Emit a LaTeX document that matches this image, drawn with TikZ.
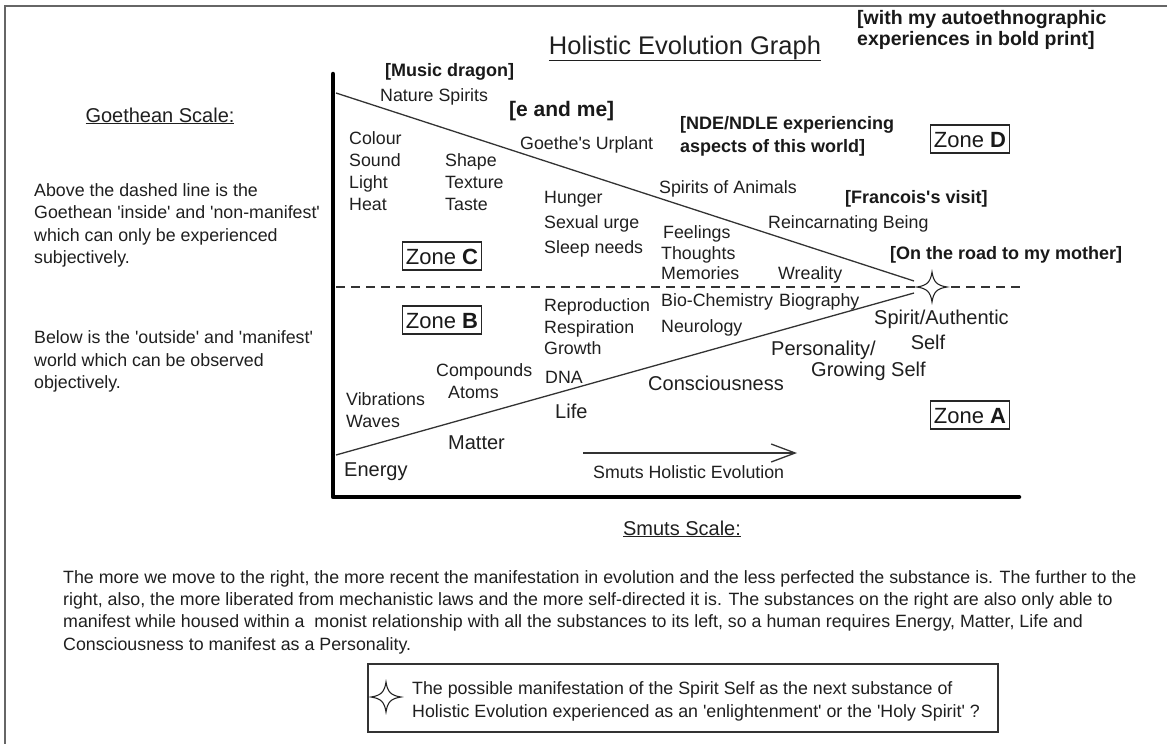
\documentclass[tikz,border=0pt]{standalone}
\usepackage{fontspec}
\setmainfont{Liberation Sans}
\usetikzlibrary{arrows.meta}
\newcommand\sqt{\textquotesingle}
\begin{document}
\begin{tikzpicture}[x=1pt,y=-1pt,
  t/.style={font=\fontsize{17.8}{21}\selectfont, inner sep=0, anchor=base west, text=black!88},
  tb/.style={font=\fontsize{18}{21}\selectfont\bfseries, inner sep=0, anchor=base west, text=black!90},
  tbig/.style={font=\fontsize{20}{24}\selectfont, inner sep=0, anchor=base west, text=black!88},
  head/.style={font=\fontsize{20}{24}\selectfont, inner sep=0, anchor=base, text=black!88},
  zonebox/.style={draw=black!85, line width=1.2, font=\fontsize{22}{26}\selectfont, inner xsep=3.5, inner ysep=0, minimum height=28, text height=16, text depth=0, text=black!90},
  ln/.style={line width=1.3, draw=black!80},
  axis/.style={line width=4.5, draw=black, line cap=round, line join=round},
  sparkle/.pic={\draw[line width=1.1, draw=black!85, fill=white] (0,-15) .. controls (1.5,-5) and (5,-1.5) .. (15,0) .. controls (5,1.5) and (1.5,5) .. (0,15) .. controls (-1.5,5) and (-5,1.5) .. (-15,0) .. controls (-5,-1.5) and (-1.5,-5) .. cycle;}
]
\useasboundingbox (0,0) rectangle (1167,744);
\fill[white] (0,0) rectangle (1167,744);
% outer frame
\draw[line width=2.2, draw=black!60] (5,744) -- (5,6) -- (1167,6);

% title
\node[font=\fontsize{25.5}{30}\selectfont, inner sep=0, anchor=base, text=black!88] (title) at (685,54) {\underline{Holistic Evolution Graph}};
\node[font=\fontsize{19.5}{22}\selectfont\bfseries, inner sep=0, anchor=base west, text=black!90] (auto1) at (857,24) {[with my autoethnographic};
\node[font=\fontsize{19.5}{22}\selectfont\bfseries, inner sep=0, anchor=base west, text=black!90] (auto2) at (857,45) {experiences in bold print]};

% left column
\node[head] (goeth) at (160,122) {\underline{Goethean Scale:}};
\node[t] (p1) at (34,196) {Above the dashed line is the};
\node[t] (p2) at (34,218) {Goethean \sqt inside\sqt\ and \sqt non-manifest\sqt};
\node[t] (p3) at (34,241) {which can only be experienced};
\node[t] (p4) at (34,263) {subjectively.};
\node[t] (p5) at (34,343) {Below is the \sqt outside\sqt\ and \sqt manifest\sqt};
\node[t] (p6) at (34,366) {world which can be observed};
\node[t] (p7) at (34,388) {objectively.};

% geometry
\coordinate (ytop) at (333,74);
\coordinate (origin) at (333,497);
\coordinate (xend) at (1019,497);
\coordinate (ua) at (336,93);
\coordinate (ub) at (914,281);
\coordinate (la) at (336,455);
\coordinate (lb) at (914,293);
\coordinate (da) at (336,287);
\coordinate (db) at (1020,287);
\coordinate (star) at (932,287);
\coordinate (sa) at (583,453);
\coordinate (sb) at (797,453);

\draw[ln, dash pattern=on 9 off 6] (da) -- (db);
\draw[ln] (ua) -- (ub);
\draw[ln] (la) -- (lb);
\draw[axis] (ytop) -- (origin) -- (xend);
\pic at (star) {sparkle};
\draw[ln, -{Straight Barb[length=24pt,width=18pt,line width=1.3pt]}] (sa) -- (sb);

% upper region labels
\node[tb] (music) at (385,76) {[Music dragon]};
\node[t] (nature) at (380,101) {Nature Spirits};
\node[font=\fontsize{21}{24}\selectfont\bfseries, inner sep=0, anchor=base west, text=black!90] (eme) at (509,116) {[e and me]};
\node[t] (urplant) at (520,149) {Goethe\sqt s Urplant};
\node[t] (colour) at (349,144) {Colour};
\node[t] (sound) at (349,166) {Sound};
\node[t] (light) at (349,188) {Light};
\node[t] (heat) at (349,210) {Heat};
\node[t] (shape) at (445,166) {Shape};
\node[t] (texture) at (445,188) {Texture};
\node[t] (taste) at (445,210) {Taste};
\node[t] (hunger) at (544,203) {Hunger};
\node[t] (sexual) at (544,228) {Sexual urge};
\node[t] (sleep) at (544,253) {Sleep needs};
\node[t] (feel) at (663,238) {Feelings};
\node[t] (thought) at (661,259) {Thoughts};
\node[t] (memo) at (661,279) {Memories};
\node[tb] (nde1) at (680,129) {[NDE/NDLE experiencing};
\node[tb] (nde2) at (680,152) {aspects of this world]};
\node[t] (animals) at (659,193) {Spirits of Animals};
\node[tb] (franc) at (845,203) {[Francois\sqt s visit]};
\node[t] (reinc) at (768,228) {Reincarnating Being};
\node[tb] (road) at (890,259) {[On the road to my mother]};
\node[t] (wreal) at (778,279) {Wreality};

% lower region labels
\node[t] (bioc) at (661,306) {Bio-Chemistry};
\node[t] (neuro) at (661,332) {Neurology};
\node[t] (biog) at (779,306) {Biography};
\node[t] (repro) at (544,311) {Reproduction};
\node[t] (resp) at (544,333) {Respiration};
\node[t] (growth) at (544,354) {Growth};
\node[t] (dna) at (545,383) {DNA};
\node[t] (comp) at (436,376) {Compounds};
\node[t] (atoms) at (448,398) {Atoms};
\node[t] (vib) at (346,405) {Vibrations};
\node[t] (waves) at (346,427) {Waves};
\node[t] (smutsl) at (593,478) {Smuts Holistic Evolution};
\node[tbig] (spirit1) at (874,324) {Spirit/Authentic};
\node[tbig, anchor=base] (spirit2) at (928,349) {Self};
\node[tbig] (pers1) at (771,355) {Personality/};
\node[tbig] (pers2) at (811,376) {Growing Self};
\node[tbig] (consc) at (648,390) {Consciousness};
\node[tbig] (life) at (555,418) {Life};
\node[tbig] (matter) at (448,449) {Matter};
\node[tbig] (energy) at (344,476) {Energy};

% zones
\node[zonebox] (zc) at (442,256) {Zone \textbf{C}};
\node[zonebox] (zb) at (442,320) {Zone \textbf{B}};
\node[zonebox] (zd) at (970,139) {Zone \textbf{D}};
\node[zonebox] (za) at (970,415) {Zone \textbf{A}};

% bottom
\node[head] (smuts) at (682,535) {\underline{Smuts Scale:}};
\node[t] (b1) at (63,583) {The more we move to the right, the more recent the manifestation in evolution and the less perfected the substance is. The further to the};
\node[t] (b2) at (63,605) {right, also, the more liberated from mechanistic laws and the more self-directed it is. The substances on the right are also only able to};
\node[t] (b3) at (63,627) {manifest while housed within a\ \ monist relationship with all the substances to its left, so a human requires Energy, Matter, Life and};
\node[t] (b4) at (63,650) {Consciousness to manifest as a Personality.};

% legend
\node[draw=black!80, line width=1.5, minimum width=630, minimum height=68, inner sep=0] (legend) at (683,698) {};
\pic at (386,697) {sparkle};
\node[t] (l1) at (412,694) {The possible manifestation of the Spirit Self as the next substance of};
\node[t] (l2) at (412,717) {Holistic Evolution experienced as an \sqt enlightenment\sqt\ or the \sqt Holy Spirit\sqt\ ?};
\end{tikzpicture}
\end{document}
